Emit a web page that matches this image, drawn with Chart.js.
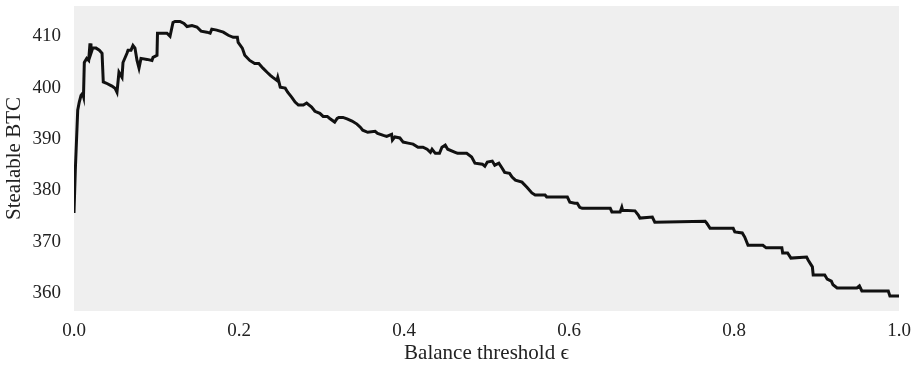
<!DOCTYPE html>
<html>
<head>
<meta charset="utf-8">
<script src="https://cdn.jsdelivr.net/npm/chart.js@4"></script>
<style>
  html, body { margin: 0; padding: 0; background: #fff; }
  #wrap { width: 915px; height: 365px; }
</style>
</head>
<body>
<div id="wrap"><canvas id="myChart" width="915" height="365"></canvas></div>
<script>
// balance threshold (x) and stealable BTC (y)
const thresholds = [
  0.000, 0.0016, 0.0045, 0.0064, 0.0085, 0.0105, 0.0115, 0.0125, 0.0154, 0.0178,
  0.0194, 0.0206, 0.0227, 0.0267, 0.0307, 0.034, 0.0355, 0.0388, 0.046, 0.0497,
  0.0521, 0.0545, 0.0582, 0.0594, 0.0642, 0.0655, 0.0691, 0.0715, 0.0739, 0.0764,
  0.0788, 0.0812, 0.0885, 0.0945, 0.0958, 0.1006, 0.1012, 0.1127, 0.1164, 0.120,
  0.1224, 0.1285, 0.1333, 0.137, 0.143, 0.149, 0.154, 0.161, 0.165, 0.167,
  0.173, 0.181, 0.187, 0.193, 0.198, 0.199, 0.204, 0.207, 0.213, 0.219,
  0.224, 0.229, 0.234, 0.238, 0.241, 0.246, 0.247, 0.250, 0.256, 0.259,
  0.264, 0.268, 0.272, 0.278, 0.282, 0.288, 0.292, 0.298, 0.302, 0.307,
  0.310, 0.316, 0.319, 0.321, 0.326, 0.331, 0.337, 0.343, 0.347, 0.350,
  0.356, 0.365, 0.368, 0.375, 0.379, 0.385, 0.386, 0.389, 0.395, 0.399,
  0.405, 0.411, 0.417, 0.423, 0.428, 0.432, 0.434, 0.438, 0.443, 0.446,
  0.450, 0.453, 0.462, 0.465, 0.476, 0.482, 0.486, 0.495, 0.498, 0.501,
  0.507, 0.510, 0.515, 0.519, 0.522, 0.528, 0.531, 0.535, 0.543, 0.549,
  0.555, 0.559, 0.571, 0.573, 0.598, 0.601, 0.607, 0.610, 0.613, 0.616,
  0.650, 0.652, 0.662, 0.664, 0.665, 0.680, 0.684, 0.686, 0.701, 0.704,
  0.765, 0.767, 0.771, 0.799, 0.801, 0.810, 0.813, 0.817, 0.835, 0.839,
  0.858, 0.859, 0.865, 0.869, 0.888, 0.890, 0.895, 0.896, 0.910, 0.913,
  0.918, 0.920, 0.925, 0.949, 0.952, 0.955, 0.987, 0.989, 1.000
];
const stealableBtc = [
  375.6, 383.9, 395.6, 397.2, 398.5, 398.9, 398.3, 404.9, 405.7, 405.3,
  408.6, 406.7, 407.7, 407.7, 407.3, 406.7, 401.1, 400.9, 400.3, 399.9,
  399.1, 403.0, 402.0, 404.9, 406.7, 407.3, 407.3, 408.2, 407.7, 405.3,
  403.8, 405.7, 405.5, 405.3, 405.9, 406.3, 410.6, 410.6, 410.0, 412.7,
  412.9, 412.9, 412.5, 411.9, 412.1, 411.8, 411.0, 410.8, 410.6, 411.4,
  411.2, 410.8, 410.2, 409.8, 409.8, 408.8, 407.7, 406.3, 405.3, 404.7,
  404.7, 403.8, 403.0, 402.4, 402.0, 401.4, 402.0, 400.1, 399.9, 399.1,
  398.1, 397.2, 396.6, 396.6, 397.0, 396.2, 395.4, 395.0, 394.4, 394.4,
  394.0, 393.3, 394.0, 394.2, 394.2, 393.9, 393.5, 392.9, 392.3, 391.7,
  391.3, 391.5, 391.1, 390.7, 390.5, 390.9, 389.8, 390.4, 390.2, 389.4,
  389.2, 389.0, 388.4, 388.4, 388.0, 387.4, 388.0, 387.2, 387.2, 388.4,
  388.8, 388.0, 387.4, 387.2, 387.2, 386.5, 385.3, 385.1, 384.7, 385.5,
  385.7, 384.9, 385.3, 384.3, 383.5, 383.3, 382.6, 382.0, 381.6, 380.6,
  379.5, 379.1, 379.1, 378.7, 378.7, 377.7, 377.5, 377.5, 376.7, 376.5,
  376.5, 375.8, 375.8, 376.7, 376.1, 376.0, 375.2, 374.6, 374.8, 373.8,
  374.0, 373.6, 372.6, 372.6, 371.9, 371.7, 370.9, 369.3, 369.3, 368.8,
  368.8, 367.8, 367.8, 366.8, 367.0, 366.4, 365.1, 363.5, 363.5, 362.7,
  362.3, 361.6, 361.0, 361.0, 361.4, 360.4, 360.4, 359.4, 359.4
];
const xTicks = [0, 0.2, 0.4, 0.6, 0.8, 1.0];
const yTicks = [360, 370, 380, 390, 400, 410];

const family = "'Liberation Serif', 'DejaVu Serif', serif";
const tickFont = { family, size: 19 };
const titleFont = { family, size: 21, lineHeight: 1 };

// grey plot background
const plotBackground = {
  id: "plotBackground",
  beforeDraw(chart) {
    const { ctx, chartArea: a } = chart;
    ctx.save();
    ctx.fillStyle = "#efefef";
    ctx.fillRect(a.left, a.top, a.right - a.left, a.bottom - a.top);
    ctx.restore();
  }
};

new Chart(document.getElementById("myChart"), {
  type: "line",
  data: {
    datasets: [
      {
        data: thresholds.map((x, i) => ({ x, y: stealableBtc[i] })),
        borderColor: "#111111",
        borderWidth: 3,
        pointRadius: 0,
        tension: 0,
        fill: false
      }
    ]
  },
  options: {
    responsive: false,
    animation: false,
    layout: { padding: { top: 6, right: 16, left: 0, bottom: 0 } },
    plugins: { legend: { display: false }, tooltip: { enabled: false } },
    scales: {
      x: {
        type: "linear",
        min: 0,
        max: 1,
        border: { display: false },
        grid: { display: false, drawTicks: false },
        afterBuildTicks: s => { s.ticks = xTicks.map(value => ({ value })); },
        afterFit: s => {
          s.height = 54;
          s.paddingLeft = 0;
          s.paddingRight = 0;
        },
        ticks: {
          padding: 9,
          color: "#222",
          font: tickFont,
          maxRotation: 0,
          callback: v => Number(v).toFixed(1)
        },
        title: {
          display: true,
          text: "Balance threshold \u03f5",
          color: "#222",
          font: titleFont,
          padding: { top: 0, bottom: 1.5 }
        }
      },
      y: {
        min: 356.5,
        max: 415.9,
        border: { display: false },
        grid: { display: false, drawTicks: false },
        afterBuildTicks: s => { s.ticks = yTicks.map(value => ({ value })); },
        afterFit: s => {
          s.width = 74;
          s.paddingTop = 0;
          s.paddingBottom = 0;
        },
        ticks: { padding: 13, color: "#222", font: tickFont },
        title: {
          display: true,
          text: "Stealable BTC",
          color: "#222",
          font: titleFont,
          padding: { top: 4, bottom: 0 }
        }
      }
    }
  },
  plugins: [plotBackground]
});
</script>
</body>
</html>
